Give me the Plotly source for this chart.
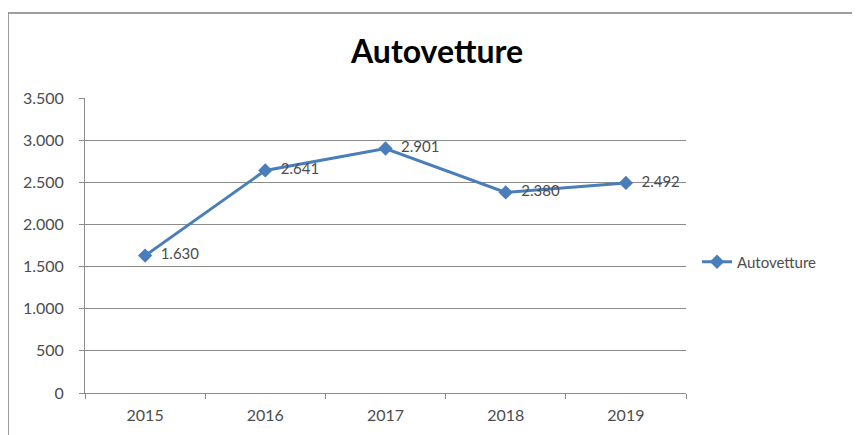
import plotly.graph_objects as go

years = ["2015", "2016", "2017", "2018", "2019"]
autovetture = [1630, 2641, 2901, 2380, 2492]
series_name = "Autovetture"
title_text = "Autovetture"

line_color = "#4A7EBB"
grid_color = "#8C8C8C"
text_color = "#4D4D4D"
font_family = "Lato, 'Open Sans', sans-serif"

# figure sits at an 8px offset in the page
L, R, T, B = 77, 678, 90, 385
PW, PH = R - L, B - T

fig = go.Figure()
fig.add_trace(go.Scatter(
    x=years, y=autovetture, name=series_name,
    mode="lines+markers+text",
    line=dict(color=line_color, width=3),
    marker=dict(symbol="diamond", size=11, color=line_color),
    texttemplate="  %{y:,}",
    textposition="middle right",
    textfont=dict(size=15, color=text_color, family=font_family),
))

fig.update_layout(
    width=860, height=435,
    margin=dict(l=L, r=860 - R, t=T, b=435 - B),
    paper_bgcolor="white", plot_bgcolor="white",
    separators=",.",
    font=dict(family=font_family, color=text_color, size=12),
    title=dict(text="<b>" + title_text + "</b>", x=(437 - 8) / 860, xanchor="center",
               y=1 - 44 / 435, yanchor="middle", yref="container",
               font=dict(size=32, color="#000000", family=font_family)),
    showlegend=True,
    legend=dict(x=(697 - 8 - L) / PW, y=(B - 254) / PH, xanchor="left", yanchor="middle",
                font=dict(size=15, color=text_color), bgcolor="rgba(0,0,0,0)"),
    xaxis=dict(type="category", range=[-0.5, 4.5], showgrid=False,
               showline=True, linecolor=grid_color, linewidth=1,
               ticks="outside", tickson="boundaries", ticklen=5, tickcolor=grid_color,
               ticklabelstandoff=8,
               tickfont=dict(size=16, color=text_color)),
    yaxis=dict(range=[0, 3500], dtick=500, tickformat=",",
               showgrid=True, gridcolor=grid_color, gridwidth=1,
               showline=True, linecolor=grid_color, linewidth=1,
               ticks="outside", ticklen=5, tickcolor=grid_color,
               ticklabelstandoff=12,
               zeroline=False,
               tickfont=dict(size=16, color=text_color)),
    shapes=[dict(type="rect", xref="paper", yref="paper",
                 x0=(0 - L) / PW, x1=1.4, y0=-0.4, y1=(B - 5) / PH,
                 line=dict(color="#7F7F7F", width=1.5), layer="below")],
)

fig.write_html("out.html")
